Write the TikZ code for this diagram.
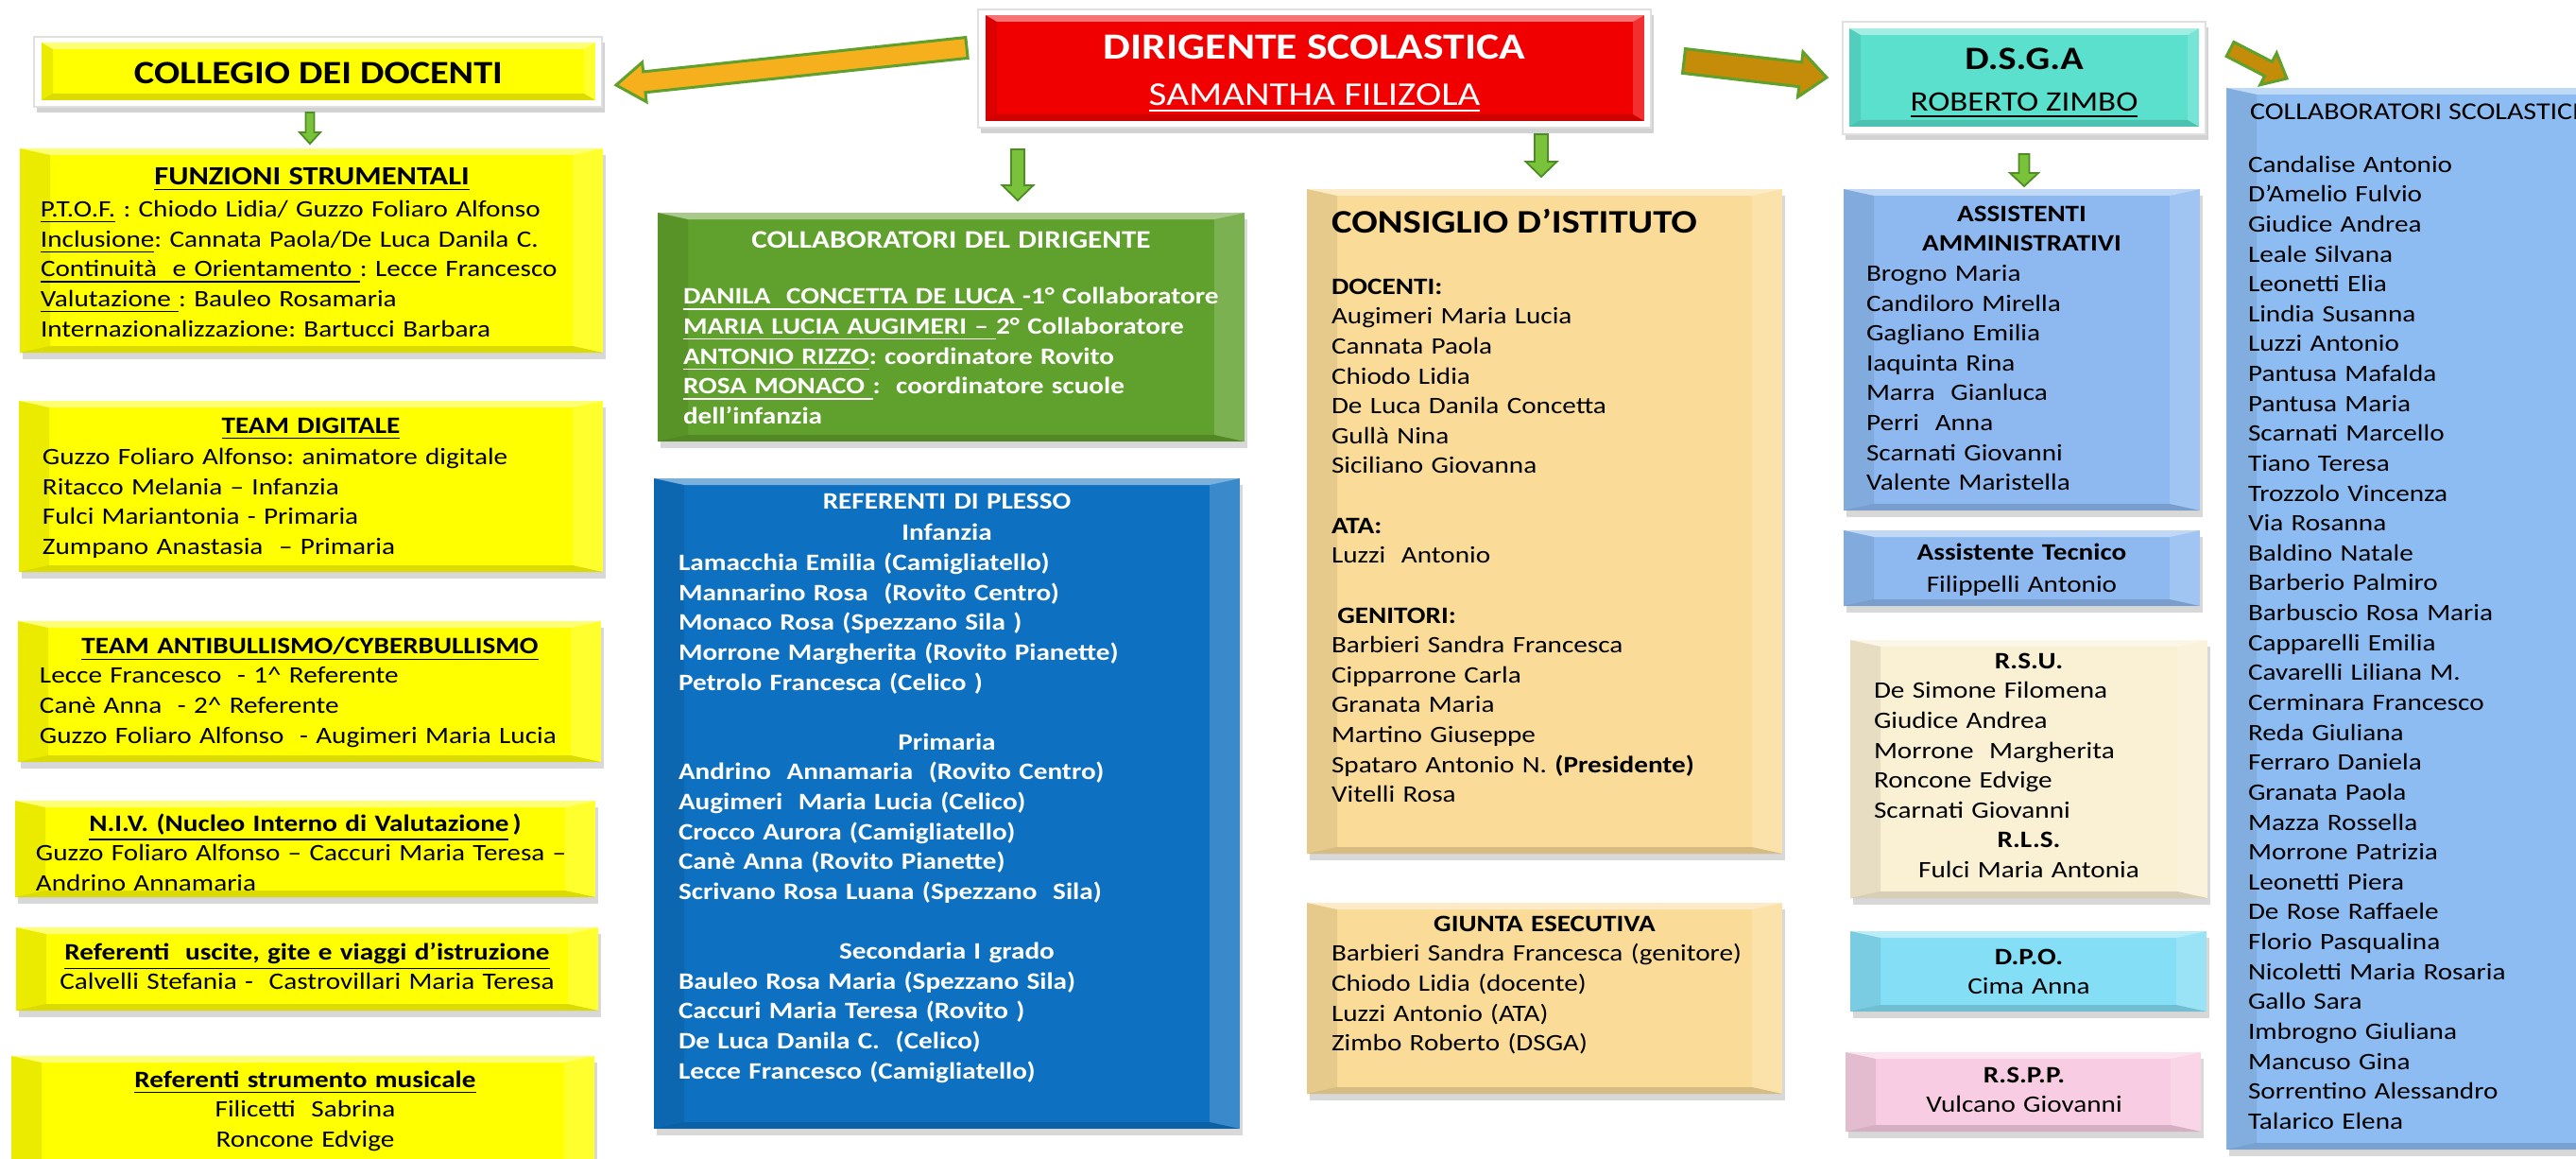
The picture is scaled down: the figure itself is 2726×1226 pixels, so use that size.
\documentclass[tikz,border=0pt]{standalone}
\usepackage{fontspec}
\setmainfont{Carlito}[FakeStretch=1.17]
\usetikzlibrary{calc,fit,shadows}
\frenchspacing
\definecolor{yel}{RGB}{255,255,0}
\definecolor{redb}{RGB}{240,0,0}
\definecolor{teal}{RGB}{90,224,204}
\definecolor{greenb}{RGB}{96,160,44}
\definecolor{blueb}{RGB}{14,112,192}
\definecolor{wheat}{RGB}{250,220,152}
\definecolor{lblue}{RGB}{141,185,240}
\definecolor{cream}{RGB}{250,240,212}
\definecolor{skyb}{RGB}{132,222,246}
\definecolor{pinkb}{RGB}{248,204,226}
\definecolor{csblue}{RGB}{140,188,242}
\definecolor{orangeA}{RGB}{246,176,30}
\definecolor{brownA}{RGB}{196,140,8}
\definecolor{edgeG}{RGB}{96,160,44}
\definecolor{greenA}{RGB}{122,194,58}
\definecolor{greenE}{RGB}{78,140,38}
\newcommand\ctrline[1]{\makebox[\hsize]{#1}}
\newcommand\blockarr[7][]{%
  \coordinate (#2-b) at ($(#3)!#6!(#2)$);
  \filldraw[line join=miter,#1,fill=#7]
   ($(#2)!#4!90:(#3)$) -- ($(#2-b)!#4!-90:(#2)$) -- ($(#2-b)!#5!-90:(#2)$) -- (#3)
   -- ($(#2-b)!#5!90:(#2)$) -- ($(#2-b)!#4!90:(#2)$) -- ($(#2)!#4!-90:(#3)$) -- cycle;
}
\tikzset{
 bevelbox/.style 2 args={path picture={
  \path (path picture bounding box.north west) coordinate (bvA)
        (path picture bounding box.north east) coordinate (bvB)
        (path picture bounding box.south east) coordinate (bvC)
        (path picture bounding box.south west) coordinate (bvD);
  \fill[white,opacity=.45] (bvA) -- (bvB) -- ($(bvB)+(-#1,#2)$) -- ($(bvA)+(#1,#2)$) -- cycle;
  \fill[black,opacity=.08] (bvA) -- ($(bvA)+(#1,#2)$) -- ($(bvD)+(#1,-#2)$) -- (bvD) -- cycle;
  \fill[white,opacity=.18] (bvB) -- (bvC) -- ($(bvC)+(-#1,-#2)$) -- ($(bvB)+(-#1,#2)$) -- cycle;
  \fill[black,opacity=.14] (bvD) -- ($(bvD)+(#1,-#2)$) -- ($(bvC)+(-#1,-#2)$) -- (bvC) -- cycle;
 }},
 bx/.style={inner sep=0pt, outer sep=0pt, bevelbox={32}{7},
   drop shadow={shadow xshift=0.3mm, shadow yshift=-0.7mm, opacity=0.3}},
 frm/.style={inner sep=0pt, outer sep=0pt, fill=white, draw=black!12, line width=0.2mm,
   drop shadow={shadow xshift=0.3mm, shadow yshift=-0.6mm, opacity=0.35}},
 inbx/.style={inner sep=0pt, outer sep=0pt, bevelbox={12}{7}},
 txt/.style={anchor=north west, inner sep=0pt, outer sep=0pt, align=left,
   font={\fontsize{7.1}{9}\selectfont}},
 ttl/.style={inner sep=0pt, outer sep=0pt},
 bigarr/.style={draw=edgeG, line width=0.3mm},
 grarr/.style={draw=greenE, line width=0.18mm},
}
\begin{document}
\begin{tikzpicture}[x=0.1mm,y=-0.1mm]
\useasboundingbox (0,0) rectangle (2726,1226);
\clip (0,0) rectangle (2726,1226);
\fill[white] (0,0) rectangle (2726,1226);

% ---------- top boxes ----------
\node[frm, fit={(36,39) (637,113)}] (colfr) {};
\node[inbx, fill=yel, fit={(44,45) (630,106)}] (colin) {};
\node[frm, fit={(1035,10) (1747,135)}] (dirfr) {};
\node[inbx, fill=redb, fit={(1043,16) (1740,128)}] (dirin) {};
\node[frm, fit={(1950,23) (2334,142)}] (dsgafr) {};
\node[inbx, fill=teal, fit={(1957,30) (2327,134)}] (dsgain) {};

% ---------- column boxes ----------
\node[bx, fill=yel, fit={(21,157) (638,373)}] (fs) {};
\node[bx, fill=yel, fit={(20,424) (638,605)}] (td) {};
\node[bx, fill=yel, fit={(19,657) (636,806)}] (ab) {};
\node[bx, fill=yel, fit={(16,847) (630,949)}] (niv) {};
\node[bx, fill=yel, fit={(17,981) (633,1069)}] (usc) {};
\node[bx, fill=yel, fit={(12,1117) (629,1250)}] (mus) {};
\node[bx, fill=greenb, fit={(696,225) (1317,467)}] (cd) {};
\node[bx, fill=blueb, fit={(692,506) (1312,1194)}] (rp) {};
\node[bx, fill=wheat, fit={(1383,200) (1886,903)}] (ci) {};
\node[bx, fill=wheat, fit={(1383,955) (1886,1157)}] (ge) {};
\node[bx, fill=lblue, fit={(1951,200) (2328,540)}] (aa) {};
\node[bx, fill=lblue, fit={(1951,561) (2328,641)}] (at) {};
\node[bx, fill=cream, fit={(1958,677) (2336,950)}] (rsu) {};
\node[bx, fill=skyb, fit={(1958,985) (2335,1070)}] (dpo) {};
\node[bx, fill=pinkb, fit={(1953,1113) (2329,1197)}] (rspp) {};
\node[bx, fill=csblue, fit={(2356,93) (2790,1216)}] (cs) {};

% ---------- arrows ----------
\coordinate (oa) at ($(dirfr.west)+(-12,-22)$);
\coordinate (oah) at ($(colfr.east)+(15,14)$);
\blockarr[bigarr]{oa}{oah}{1.1mm}{2.1mm}{3mm}{orangeA}
\coordinate (ba) at ($(dirfr.east)+(35,-8)$);
\coordinate (bah) at ($(dsgafr.west)+(-17,-0.5)$);
\blockarr[bigarr]{ba}{bah}{1.3mm}{2.4mm}{2.8mm}{brownA}
\coordinate (bb) at ($(dsgafr.north east)+(26,29)$);
\coordinate (bbh) at ($(cs.north west)+(64,-10)$);
\blockarr[bigarr]{bb}{bbh}{0.85mm}{1.9mm}{2.2mm}{brownA}
\coordinate (ga) at ($(colfr.south)+(-8.5,6)$);
\coordinate (gah) at ($(fs.north)+(-1.5,-5)$);
\blockarr[grarr]{ga}{gah}{0.45mm}{1.1mm}{1.2mm}{greenA}
\coordinate (gb) at ($(dirfr.south west)+(42,23)$);
\coordinate (gbh) at ($(cd.north)+(70.5,-13)$);
\blockarr[grarr]{gb}{gbh}{0.7mm}{1.65mm}{1.6mm}{greenA}
\coordinate (gc) at ($(dirfr.south)+(240,7)$);
\coordinate (gch) at ($(ci.north)+(-3.5,-13)$);
\blockarr[grarr]{gc}{gch}{0.7mm}{1.65mm}{1.6mm}{greenA}
\coordinate (gd) at ($(dsgafr.south)+(0,21)$);
\coordinate (gdh) at ($(aa.north)+(2.5,-3)$);
\blockarr[grarr]{gd}{gdh}{0.55mm}{1.5mm}{1.4mm}{greenA}

% ---------- top titles ----------
\node[ttl, font={\fontsize{9.8}{12}\selectfont\bfseries}] (colt) at (337,77.5) {COLLEGIO DEI DOCENTI};
\node[ttl, text=white, font={\fontsize{11.1}{14}\selectfont\bfseries}] (dirt) at (1391,50) {DIRIGENTE SCOLASTICA};
\node[ttl, text=white, anchor=base, font={\fontsize{10}{12}\selectfont}] (dirn) at (1391,112) {\underline{SAMANTHA FILIZOLA}};
\node[ttl, font={\fontsize{9.8}{12}\selectfont\bfseries}] (dsgat) at (2142,62.5) {D.S.G.A};
\node[ttl, anchor=base, font={\fontsize{8.5}{11}\selectfont}] (dsgan) at (2142,118) {\underline{ROBERTO ZIMBO}};

% ---------- left column texts ----------
\node[txt, text width=57.4mm] (fs-t) at (43,173) {\strut\ctrline{\fontsize{7.9}{9}\selectfont\bfseries\underline{FUNZIONI STRUMENTALI}}\\[0.8pt]
\underline{P.T.O.F.} : Chiodo Lidia/ Guzzo Foliaro Alfonso\\
\underline{Inclusione}: Cannata Paola/De Luca Danila C.\\
\underline{Continuità\ \ e Orientamento\ }: Lecce Francesco\\
\underline{Valutazione\ }: Bauleo Rosamaria\\
Internazionalizzazione: Bartucci Barbara};

\node[txt, text width=56.8mm] (td-t) at (45,436) {\strut\ctrline{\bfseries\underline{TEAM DIGITALE}}\\[0.5pt]
Guzzo Foliaro Alfonso: animatore digitale\\
Ritacco Melania – Infanzia\\
Fulci Mariantonia - Primaria\\
Zumpano Anastasia\ \ – Primaria};

\node[txt, text width=57.2mm] (ab-t) at (42,669) {\strut\ctrline{\bfseries\underline{TEAM ANTIBULLISMO/CYBERBULLISMO}}\\
Lecce Francesco\ \ - 1\textasciicircum{} Referente\\
Canè Anna\ \ - 2\textasciicircum{} Referente\\
Guzzo Foliaro Alfonso\ \ - Augimeri Maria Lucia};

\node[txt, text width=57mm] (niv-t) at (38,857) {\strut\ctrline{\bfseries\underline{N.I.V. (Nucleo Interno di Valutazione}\,)}\\
Guzzo Foliaro Alfonso – Caccuri Maria Teresa –\\
Andrino Annamaria};

\node[txt, text width=60mm] (usc-t) at (25,993) {\strut\ctrline{\bfseries\underline{Referenti\ \ uscite, gite e viaggi d’istruzione}}\\
\ctrline{Calvelli Stefania -\ \ Castrovillari Maria Teresa}};

\node[txt, text width=60mm] (mus-t) at (23,1128) {\strut\ctrline{\bfseries\underline{Referenti strumento musicale}}\\
\ctrline{Filicetti\ \ Sabrina}\\
\ctrline{Roncone Edvige}};

% ---------- second column ----------
\node[txt, text width=56.7mm, text=white, font={\fontsize{7.1}{9}\selectfont\bfseries}] (cd-t) at (723,240) {\strut\ctrline{\fontsize{7.6}{9}\selectfont COLLABORATORI DEL DIRIGENTE}\\[8pt]
\underline{DANILA\ \ CONCETTA DE LUCA\ }-1° Collaboratore\\
\underline{MARIA LUCIA AUGIMERI –\ }2° Collaboratore\\
\underline{ANTONIO RIZZO}: coordinatore Rovito\\
\underline{ROSA MONACO\ }:\ \ coordinatore scuole\\
dell’infanzia};

\node[txt, text width=56.8mm, text=white, font={\fontsize{7.1}{9}\selectfont\bfseries}] (rp-t) at (718,516) {\strut\ctrline{REFERENTI DI PLESSO}\\[0.6pt]
\ctrline{Infanzia}\\
Lamacchia Emilia (Camigliatello)\\
Mannarino Rosa\ \ (Rovito Centro)\\
Monaco Rosa (Spezzano Sila )\\
Morrone Margherita (Rovito Pianette)\\
Petrolo Francesca (Celico )\\[9pt]
\ctrline{Primaria}\\
Andrino\ \ Annamaria\ \ (Rovito Centro)\\
Augimeri\ \ Maria Lucia (Celico)\\
Crocco Aurora (Camigliatello)\\
Canè Anna (Rovito Pianette)\\
Scrivano Rosa Luana (Spezzano\ \ Sila)\\[9pt]
\ctrline{Secondaria I grado}\\
Bauleo Rosa Maria (Spezzano Sila)\\
Caccuri Maria Teresa (Rovito )\\
De Luca Danila C.\ \ (Celico)\\
Lecce Francesco (Camigliatello)};

% ---------- third column ----------
\node[ttl, anchor=base west, font={\fontsize{9.9}{12}\selectfont\bfseries}] (ci-title) at (1409,246) {CONSIGLIO D’ISTITUTO};
\node[txt, text width=46mm] (ci-t) at (1409,289) {\strut\textbf{DOCENTI:}\\
Augimeri Maria Lucia\\
Cannata Paola\\
Chiodo Lidia\\
De Luca Danila Concetta\\
Gullà Nina\\
Siciliano Giovanna\\[9pt]
\textbf{ATA:}\\
Luzzi\ \ Antonio\\[9pt]
\hspace*{0.25em}\textbf{GENITORI:}\\
Barbieri Sandra Francesca\\
Cipparrone Carla\\
Granata Maria\\
Martino Giuseppe\\
Spataro Antonio N. \textbf{(Presidente)}\\
Vitelli Rosa};

\node[txt, text width=45.1mm] (ge-t) at (1409,963) {\strut\ctrline{\bfseries GIUNTA ESECUTIVA}\\
Barbieri Sandra Francesca (genitore)\\
Chiodo Lidia (docente)\\
Luzzi Antonio (ATA)\\
Zimbo Roberto (DSGA)};

% ---------- fourth column ----------
\node[txt, text width=32.9mm] (aa-t) at (1975,212) {\strut\ctrline{\bfseries ASSISTENTI}\\
\ctrline{\bfseries AMMINISTRATIVI}\\
Brogno Maria\\
Candiloro Mirella\\
Gagliano Emilia\\
Iaquinta Rina\\
Marra\ \ Gianluca\\
Perri\ \ Anna\\
Scarnati Giovanni\\
Valente Maristella};

\node[txt, text width=32.9mm] (at-t) at (1975,570) {\strut\ctrline{\bfseries Assistente Tecnico}\\[0.7pt]
\ctrline{Filippelli Antonio}};

\node[txt, text width=32.8mm] (rsu-t) at (1983,685) {\strut\ctrline{\bfseries R.S.U.}\\
De Simone Filomena\\
Giudice Andrea\\
Morrone\ \ Margherita\\
Roncone Edvige\\
Scarnati Giovanni\\
\ctrline{\bfseries R.L.S.}\\
\ctrline{Fulci Maria Antonia}};

\node[txt, text width=32.8mm] (dpo-t) at (1983,998) {\strut\ctrline{\bfseries D.P.O.}\\
\ctrline{Cima Anna}};

\node[txt, text width=33.4mm] (rspp-t) at (1975,1123) {\strut\ctrline{\bfseries R.S.P.P.}\\
\ctrline{Vulcano Giovanni}};

% ---------- fifth column ----------
\node[ttl, anchor=base west, font={\fontsize{7.3}{9}\selectfont}] (cs-title) at (2381,127) {COLLABORATORI SCOLASTICI};
\node[txt, text width=32mm] (cs-t) at (2379,160) {\strut Candalise Antonio\\
D’Amelio Fulvio\\
Giudice Andrea\\
Leale Silvana\\
Leonetti Elia\\
Lindia Susanna\\
Luzzi Antonio\\
Pantusa Mafalda\\
Pantusa Maria\\
Scarnati Marcello\\
Tiano Teresa\\
Trozzolo Vincenza\\
Via Rosanna\\
Baldino Natale\\
Barberio Palmiro\\
Barbuscio Rosa Maria\\
Capparelli Emilia\\
Cavarelli Liliana M.\\
Cerminara Francesco\\
Reda Giuliana\\
Ferraro Daniela\\
Granata Paola\\
Mazza Rossella\\
Morrone Patrizia\\
Leonetti Piera\\
De Rose Raffaele\\
Florio Pasqualina\\
Nicoletti Maria Rosaria\\
Gallo Sara\\
Imbrogno Giuliana\\
Mancuso Gina\\
Sorrentino Alessandro\\
Talarico Elena};
\end{tikzpicture}
\end{document}
